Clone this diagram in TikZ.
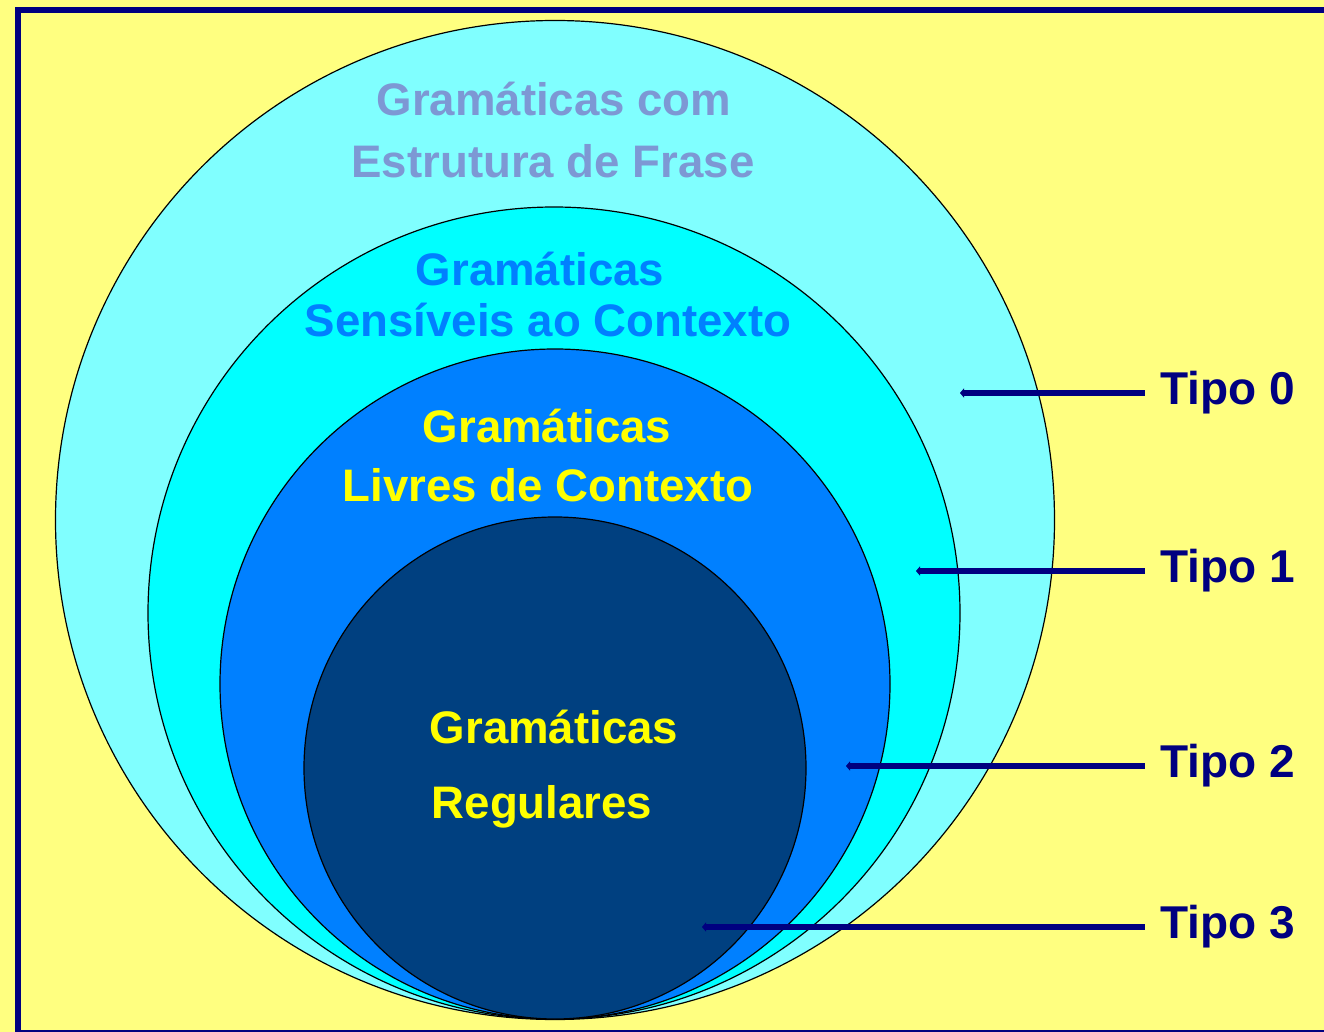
\documentclass[tikz,border=0pt]{standalone}
\usepackage{fontspec}
\setmainfont{Liberation Sans}
\usetikzlibrary{arrows.meta}
\definecolor{paleyellow}{RGB}{255,255,128}
\definecolor{framenavy}{RGB}{0,0,128}
\definecolor{phrasefill}{RGB}{128,255,255}
\definecolor{sensitivefill}{RGB}{0,255,255}
\definecolor{contextfreefill}{RGB}{0,128,255}
\definecolor{regularfill}{RGB}{0,64,128}
\definecolor{phrasetext}{RGB}{125,152,212}
\definecolor{sensitivetext}{RGB}{0,128,255}
\definecolor{labelyellow}{RGB}{255,255,0}
\begin{document}
\begin{tikzpicture}[x=0.5pt,y=-0.5pt,
    ring/.style={draw=black,line width=0.6pt},
    circletext/.style={font=\bfseries\fontsize{22.8}{27}\selectfont,anchor=base,inner sep=0pt},
    tipolabel/.style={font=\bfseries\fontsize{23}{27}\selectfont,text=framenavy,anchor=west,inner xsep=7.5pt},
    tipoline/.style={draw=framenavy,line width=3.3pt,arrows={Triangle[length=2pt,width=4.6pt]-}}]
        \useasboundingbox (0,0) rectangle (1324,1032);
        \clip (0,0) rectangle (1324,1032);
        % background and frame
        \fill[paleyellow] (0,0) rectangle (1324,1032);
        \draw[framenavy,line width=3.4pt] (18,10) rectangle (1340,1033);
        % centres of the nested circles
        \coordinate (phrasecentre)      at (555,520);
        \coordinate (sensitivecentre)   at (554,613);
        \coordinate (contextfreecentre) at (555,684);
        \coordinate (regularcentre)     at (555,768);
        % drawing the circles, outermost first
        \draw[ring,fill=phrasefill]      (phrasecentre)      circle (249.75pt);
        \draw[ring,fill=sensitivefill]   (sensitivecentre)   circle (203pt);
        \draw[ring,fill=contextfreefill] (contextfreecentre) circle (167.5pt);
        \draw[ring,fill=regularfill]     (regularcentre)     circle (125.5pt);
        % texts in the circles
        \node[circletext,text=phrasetext]    (phraseone)       at (554,116) {Gramáticas com};
        \node[circletext,text=phrasetext]    (phrasetwo)       at (553,178) {Estrutura de Frase};
        \node[circletext,text=sensitivetext] (sensitiveone)    at (540,286) {Gramáticas};
        \node[circletext,text=sensitivetext] (sensitivetwo)    at (548,337) {Sensíveis ao Contexto};
        \node[circletext,text=labelyellow]   (contextfreeone)  at (547,443) {Gramáticas};
        \node[circletext,text=labelyellow]   (contextfreetwo)  at (548,502) {Livres de Contexto};
        \node[circletext,text=labelyellow]   (regularone)      at (554,743) {Gramáticas};
        \node[circletext,text=labelyellow]   (regulartwo)      at (542,818) {Regulares};
        % type labels
        \node[tipolabel] (tipozero)  at (1145,393) {Tipo 0};
        \node[tipolabel] (tipoone)   at (1145,571) {Tipo 1};
        \node[tipolabel] (tipotwo)   at (1145,766) {Tipo 2};
        \node[tipolabel] (tipothree) at (1145,927) {Tipo 3};
        % start points of the lines
        \coordinate (tipozerostart)  at (960,393);
        \coordinate (tipoonestart)   at (916,571);
        \coordinate (tipotwostart)   at (846,766);
        \coordinate (tipothreestart) at (702,927);
        % drawing the lines
        \draw[tipoline] (tipozerostart)  -- (tipozero.west);
        \draw[tipoline] (tipoonestart)   -- (tipoone.west);
        \draw[tipoline] (tipotwostart)   -- (tipotwo.west);
        \draw[tipoline] (tipothreestart) -- (tipothree.west);
\end{tikzpicture}
\end{document}
